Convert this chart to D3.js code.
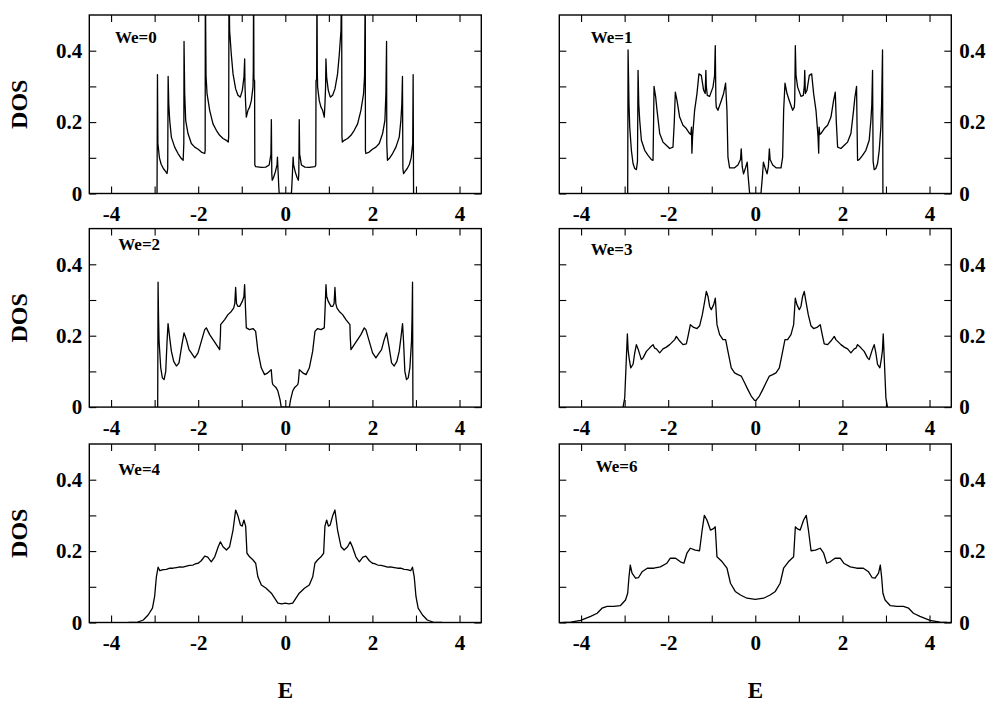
<!DOCTYPE html>
<html>
<head>
<meta charset="utf-8">
<script src="https://cdn.jsdelivr.net/npm/d3@7"></script>
<style>
  html, body { margin: 0; padding: 0; background: #fff; }
  svg { display: block; }
  text { font-family: "Liberation Serif", "Times New Roman", serif; font-weight: bold; fill: #000; }
</style>
</head>
<body>
<svg id="chart" width="994" height="704"></svg>
<script>
// ---------------- data ----------------
const panelLabels = ["We=0", "We=1", "We=2", "We=3", "We=4", "We=6"];
const eTicks = [-4, -3, -2, -1, 0, 1, 2, 3, 4];
const eTickLabels = [-4, -2, 0, 2, 4];
const dosTicks = [0, 0.1, 0.2, 0.3, 0.4];
const dosTickLabels = [0, 0.2, 0.4];
const xLabel = "E";
const yLabel = "DOS";

const we0 = [
  [-2.945,0],[-2.935,0.333],[-2.925,0.14],[-2.89,0.10],[-2.85,0.082],[-2.80,0.07],[-2.75,0.062],[-2.715,0.056],
  [-2.70,0.07],[-2.69,0.328],[-2.675,0.25],[-2.654,0.205],[-2.616,0.158],[-2.54,0.13],[-2.463,0.112],[-2.386,0.098],
  [-2.345,0.093],[-2.33,0.14],[-2.325,0.426],[-2.31,0.28],[-2.287,0.205],[-2.234,0.168],[-2.157,0.14],[-2.08,0.13],
  [-2.0,0.124],[-1.927,0.116],[-1.85,0.112],[-1.84,0.12],[-1.836,0.6],[-1.82,0.33],[-1.797,0.28],[-1.736,0.233],
  [-1.66,0.195],[-1.583,0.177],[-1.507,0.163],[-1.43,0.154],[-1.354,0.149],[-1.31,0.144],[-1.30,0.16],[-1.293,0.6],
  [-1.278,0.456],[-1.24,0.39],[-1.2,0.335],[-1.14,0.293],[-1.087,0.275],[-1.033,0.27],[-0.987,0.289],[-0.949,0.326],
  [-0.933,0.377],[-0.925,0.30],[-0.91,0.25],[-0.895,0.214],[-0.857,0.233],[-0.819,0.242],[-0.78,0.26],[-0.742,0.298],
  [-0.735,0.34],[-0.727,0.6],[-0.72,0.32],[-0.705,0.316],[-0.70,0.08],[-0.68,0.075],[-0.55,0.073],[-0.45,0.074],
  [-0.37,0.08],[-0.33,0.11],[-0.32,0.207],[-0.31,0.056],[-0.30,0.037],[-0.27,0.045],[-0.23,0.06],[-0.19,0.08],
  [-0.18,0.102],[-0.165,0.06],[-0.15,0.02],[-0.14,0],
  [0.14,0],[0.15,0.02],[0.165,0.06],[0.18,0.102],[0.19,0.08],[0.23,0.06],[0.27,0.045],[0.30,0.037],
  [0.31,0.056],[0.32,0.207],[0.33,0.11],[0.37,0.08],[0.45,0.074],[0.55,0.073],[0.68,0.075],[0.70,0.08],
  [0.705,0.316],[0.72,0.32],[0.727,0.6],[0.735,0.34],[0.742,0.298],[0.78,0.26],[0.819,0.242],[0.857,0.233],
  [0.895,0.214],[0.91,0.25],[0.925,0.30],[0.933,0.377],[0.949,0.326],[0.987,0.289],[1.033,0.27],[1.087,0.275],
  [1.14,0.293],[1.2,0.335],[1.24,0.39],[1.278,0.456],[1.293,0.6],[1.30,0.16],[1.31,0.144],[1.354,0.149],
  [1.43,0.154],[1.507,0.163],[1.583,0.177],[1.66,0.195],[1.736,0.233],[1.797,0.28],[1.82,0.33],[1.836,0.6],
  [1.84,0.12],[1.85,0.112],[1.927,0.116],[2.0,0.124],[2.08,0.13],[2.157,0.14],[2.234,0.168],[2.287,0.205],
  [2.31,0.28],[2.325,0.426],[2.33,0.14],[2.345,0.093],[2.386,0.098],[2.463,0.112],[2.54,0.13],[2.616,0.158],
  [2.654,0.205],[2.675,0.25],[2.69,0.328],[2.70,0.07],[2.715,0.056],[2.75,0.062],[2.80,0.07],[2.85,0.082],
  [2.89,0.10],[2.925,0.14],[2.935,0.333],[2.945,0]
];

const we1 = [
  [-2.93,0],[-2.921,0.402],[-2.90,0.25],[-2.883,0.186],[-2.845,0.121],[-2.807,0.084],[-2.768,0.07],[-2.73,0.067],
  [-2.705,0.09],[-2.692,0.345],[-2.675,0.25],[-2.654,0.205],[-2.615,0.149],[-2.539,0.121],[-2.462,0.107],[-2.386,0.095],
  [-2.348,0.093],[-2.335,0.2],[-2.325,0.30],[-2.30,0.28],[-2.287,0.27],[-2.256,0.233],[-2.195,0.168],[-2.119,0.144],
  [-2.043,0.135],[-1.966,0.126],[-1.89,0.13],[-1.86,0.2],[-1.836,0.284],[-1.798,0.261],[-1.737,0.214],[-1.66,0.191],
  [-1.584,0.182],[-1.507,0.168],[-1.48,0.165],[-1.465,0.186],[-1.455,0.113],[-1.44,0.16],[-1.393,0.233],[-1.34,0.279],
  [-1.294,0.335],[-1.24,0.331],[-1.186,0.289],[-1.15,0.28],[-1.135,0.345],[-1.125,0.30],[-1.102,0.275],[-1.049,0.272],
  [-0.972,0.298],[-0.935,0.33],[-0.919,0.414],[-0.905,0.26],[-0.896,0.242],[-0.858,0.233],[-0.781,0.26],[-0.728,0.28],
  [-0.682,0.309],[-0.651,0.233],[-0.628,0.102],[-0.59,0.072],[-0.476,0.072],[-0.399,0.08],[-0.34,0.095],[-0.323,0.125],
  [-0.30,0.075],[-0.27,0.055],[-0.224,0.072],[-0.186,0.088],[-0.165,0.05],[-0.13,0],
  [0.13,0],[0.165,0.05],[0.186,0.088],[0.224,0.072],[0.27,0.055],[0.30,0.075],[0.323,0.125],[0.34,0.095],
  [0.399,0.08],[0.476,0.072],[0.59,0.072],[0.628,0.102],[0.651,0.233],[0.682,0.309],[0.728,0.28],[0.781,0.26],
  [0.858,0.233],[0.896,0.242],[0.905,0.26],[0.919,0.414],[0.935,0.33],[0.972,0.298],[1.049,0.272],[1.102,0.275],
  [1.125,0.30],[1.135,0.345],[1.15,0.28],[1.186,0.289],[1.24,0.331],[1.294,0.335],[1.34,0.279],[1.393,0.233],
  [1.44,0.16],[1.455,0.113],[1.465,0.186],[1.48,0.165],[1.507,0.168],[1.584,0.182],[1.66,0.191],[1.737,0.214],
  [1.798,0.261],[1.836,0.284],[1.86,0.2],[1.89,0.13],[1.966,0.126],[2.043,0.135],[2.119,0.144],[2.195,0.168],
  [2.256,0.233],[2.287,0.27],[2.30,0.28],[2.325,0.30],[2.335,0.2],[2.348,0.093],[2.386,0.095],[2.462,0.107],
  [2.539,0.121],[2.615,0.149],[2.654,0.205],[2.675,0.25],[2.692,0.345],[2.705,0.09],[2.73,0.067],[2.768,0.07],
  [2.807,0.084],[2.845,0.121],[2.883,0.186],[2.90,0.25],[2.921,0.402],[2.93,0]
];

const we2 = [
  [-2.93,0],[-2.921,0.35],[-2.91,0.25],[-2.898,0.184],[-2.86,0.11],[-2.822,0.082],[-2.783,0.077],[-2.745,0.10],
  [-2.715,0.184],[-2.692,0.234],[-2.654,0.194],[-2.615,0.156],[-2.562,0.128],[-2.5,0.115],[-2.44,0.124],[-2.386,0.166],
  [-2.325,0.208],[-2.271,0.189],[-2.21,0.161],[-2.157,0.152],[-2.08,0.138],[-2.004,0.152],[-1.928,0.184],[-1.85,0.217],
  [-1.813,0.222],[-1.736,0.203],[-1.66,0.189],[-1.583,0.175],[-1.507,0.161],[-1.49,0.2],[-1.484,0.231],[-1.392,0.245],
  [-1.316,0.259],[-1.24,0.268],[-1.186,0.277],[-1.16,0.29],[-1.14,0.335],[-1.12,0.29],[-1.087,0.282],[-1.048,0.282],
  [-0.987,0.296],[-0.95,0.31],[-0.934,0.343],[-0.915,0.28],[-0.895,0.222],[-0.819,0.217],[-0.742,0.22],[-0.681,0.212],
  [-0.628,0.156],[-0.552,0.11],[-0.476,0.091],[-0.4,0.096],[-0.323,0.105],[-0.30,0.07],[-0.285,0.063],[-0.209,0.054],
  [-0.17,0.045],[-0.12,0.02],[-0.094,0],
  [0.094,0],[0.12,0.02],[0.17,0.045],[0.209,0.054],[0.285,0.063],[0.30,0.07],[0.323,0.105],[0.4,0.096],
  [0.476,0.091],[0.552,0.11],[0.628,0.156],[0.681,0.212],[0.742,0.22],[0.819,0.217],[0.895,0.222],[0.915,0.28],
  [0.934,0.343],[0.95,0.31],[0.987,0.296],[1.048,0.282],[1.087,0.282],[1.12,0.29],[1.14,0.335],[1.16,0.29],
  [1.186,0.277],[1.24,0.268],[1.316,0.259],[1.392,0.245],[1.484,0.231],[1.49,0.2],[1.507,0.161],[1.583,0.175],
  [1.66,0.189],[1.736,0.203],[1.813,0.222],[1.85,0.217],[1.928,0.184],[2.004,0.152],[2.08,0.138],[2.157,0.152],
  [2.21,0.161],[2.271,0.189],[2.325,0.208],[2.386,0.166],[2.44,0.124],[2.5,0.115],[2.562,0.128],[2.615,0.156],
  [2.654,0.194],[2.692,0.234],[2.715,0.184],[2.745,0.10],[2.783,0.077],[2.822,0.082],[2.86,0.11],[2.898,0.184],
  [2.91,0.25],[2.921,0.35],[2.93,0]
];

const we3 = [
  [-3.036,0],[-2.998,0.026],[-2.96,0.138],[-2.937,0.205],[-2.92,0.16],[-2.898,0.138],[-2.86,0.11],[-2.806,0.12],
  [-2.768,0.152],[-2.73,0.175],[-2.692,0.163],[-2.615,0.133],[-2.577,0.138],[-2.5,0.156],[-2.424,0.166],[-2.348,0.175],
  [-2.31,0.165],[-2.271,0.163],[-2.195,0.152],[-2.119,0.163],[-2.042,0.168],[-1.966,0.175],[-1.85,0.189],[-1.813,0.198],
  [-1.736,0.185],[-1.66,0.175],[-1.583,0.177],[-1.545,0.198],[-1.491,0.231],[-1.415,0.223],[-1.338,0.22],[-1.277,0.228],
  [-1.216,0.259],[-1.162,0.296],[-1.124,0.324],[-1.086,0.31],[-1.048,0.282],[-1.01,0.273],[-0.956,0.287],[-0.918,0.305],
  [-0.88,0.231],[-0.819,0.203],[-0.742,0.189],[-0.681,0.189],[-0.628,0.156],[-0.552,0.11],[-0.475,0.096],[-0.399,0.091],
  [-0.323,0.087],[-0.246,0.068],[-0.17,0.049],[-0.094,0.031],[-0.017,0.019],
  [0.017,0.019],[0.094,0.031],[0.17,0.049],[0.246,0.068],[0.323,0.087],[0.399,0.091],[0.475,0.096],[0.552,0.11],
  [0.628,0.156],[0.681,0.189],[0.742,0.189],[0.819,0.203],[0.88,0.231],[0.918,0.305],[0.956,0.287],[1.01,0.273],
  [1.048,0.282],[1.086,0.31],[1.124,0.324],[1.162,0.296],[1.216,0.259],[1.277,0.228],[1.338,0.22],[1.415,0.223],
  [1.491,0.231],[1.545,0.198],[1.583,0.177],[1.66,0.175],[1.736,0.185],[1.813,0.198],[1.85,0.189],[1.966,0.175],
  [2.042,0.168],[2.119,0.163],[2.195,0.152],[2.271,0.163],[2.31,0.165],[2.348,0.175],[2.424,0.166],[2.5,0.156],
  [2.577,0.138],[2.615,0.133],[2.692,0.163],[2.73,0.175],[2.768,0.152],[2.806,0.12],[2.86,0.11],[2.898,0.138],
  [2.92,0.16],[2.937,0.205],[2.96,0.138],[2.998,0.026],[3.036,0]
];

const we4 = [
  [-3.6,0],[-3.42,0],[-3.26,0.007],[-3.15,0.021],[-3.05,0.04],[-3.0,0.073],[-2.96,0.128],[-2.92,0.155],
  [-2.88,0.145],[-2.80,0.148],[-2.73,0.149],[-2.65,0.152],[-2.58,0.152],[-2.5,0.154],[-2.42,0.156],[-2.35,0.155],
  [-2.27,0.158],[-2.2,0.16],[-2.12,0.161],[-2.05,0.165],[-2.0,0.166],[-1.93,0.173],[-1.85,0.186],[-1.78,0.183],
  [-1.70,0.17],[-1.62,0.184],[-1.54,0.212],[-1.49,0.226],[-1.43,0.212],[-1.35,0.203],[-1.28,0.212],[-1.2,0.259],
  [-1.14,0.315],[-1.09,0.30],[-1.03,0.273],[-0.99,0.27],[-0.95,0.287],[-0.91,0.27],[-0.88,0.194],[-0.82,0.184],
  [-0.74,0.175],[-0.68,0.166],[-0.63,0.128],[-0.55,0.105],[-0.44,0.096],[-0.32,0.082],[-0.245,0.068],[-0.17,0.054],
  [-0.08,0.052],[0,0.054],
  [0.08,0.052],[0.17,0.054],[0.245,0.068],[0.32,0.082],[0.44,0.096],[0.55,0.105],[0.63,0.128],[0.68,0.166],
  [0.74,0.175],[0.82,0.184],[0.88,0.194],[0.91,0.27],[0.95,0.287],[0.99,0.27],[1.03,0.273],[1.09,0.30],
  [1.14,0.315],[1.2,0.259],[1.28,0.212],[1.35,0.203],[1.43,0.212],[1.49,0.226],[1.54,0.212],[1.62,0.184],
  [1.70,0.17],[1.78,0.183],[1.85,0.186],[1.93,0.173],[2.0,0.166],[2.05,0.165],[2.12,0.161],[2.2,0.16],
  [2.27,0.158],[2.35,0.155],[2.42,0.156],[2.5,0.154],[2.58,0.152],[2.65,0.152],[2.73,0.149],[2.80,0.148],
  [2.88,0.145],[2.92,0.155],[2.96,0.128],[3.0,0.073],[3.05,0.04],[3.15,0.021],[3.26,0.007],[3.42,0],[3.6,0]
];

const we6 = [
  [-4.4,0],[-4.24,0.001],[-4.01,0.006],[-3.78,0.017],[-3.63,0.026],[-3.52,0.04],[-3.40,0.045],[-3.25,0.045],
  [-3.10,0.047],[-2.98,0.063],[-2.93,0.082],[-2.90,0.128],[-2.87,0.161],[-2.83,0.138],[-2.75,0.124],[-2.68,0.126],
  [-2.60,0.142],[-2.48,0.152],[-2.33,0.152],[-2.18,0.156],[-2.03,0.166],[-1.95,0.18],[-1.83,0.18],[-1.72,0.17],
  [-1.64,0.166],[-1.57,0.194],[-1.49,0.208],[-1.38,0.203],[-1.28,0.201],[-1.22,0.259],[-1.17,0.30],[-1.11,0.287],
  [-1.03,0.259],[-0.96,0.263],[-0.92,0.268],[-0.88,0.184],[-0.76,0.17],[-0.65,0.152],[-0.57,0.11],[-0.46,0.087],
  [-0.34,0.077],[-0.19,0.068],[0,0.065],
  [0.19,0.068],[0.34,0.077],[0.46,0.087],[0.57,0.11],[0.65,0.152],[0.76,0.17],[0.88,0.184],[0.92,0.268],
  [0.96,0.263],[1.03,0.259],[1.11,0.287],[1.17,0.30],[1.22,0.259],[1.28,0.201],[1.38,0.203],[1.49,0.208],
  [1.57,0.194],[1.64,0.166],[1.72,0.17],[1.83,0.18],[1.95,0.18],[2.03,0.166],[2.18,0.156],[2.33,0.152],
  [2.48,0.152],[2.60,0.142],[2.68,0.126],[2.75,0.124],[2.83,0.138],[2.87,0.161],[2.90,0.128],[2.93,0.082],
  [2.98,0.063],[3.10,0.047],[3.25,0.045],[3.40,0.045],[3.52,0.04],[3.63,0.026],[3.78,0.017],[4.01,0.006],
  [4.24,0.001],[4.4,0]
];

const series = [we0, we1, we2, we3, we4, we6];

// ---------------- layout ----------------
const colX = [89.3, 559.3];
const rowY = [15, 228.6, 444];
const panelW = 392, panelH = 178.5;
const labelOffsets = [[25.7, 28.3], [31.4, 28.3], [29, 21.7], [31.4, 26.7], [29, 31], [36.4, 27.7]];

const svg = d3.select("#chart");
const fmtE = d => eTickLabels.includes(d) ? String(d) : "";
const fmtD = d => dosTickLabels.includes(d) ? (d === 0 ? "0" : d.toFixed(1)) : "";

series.forEach((data, i) => {
  const col = i % 2, row = Math.floor(i / 2);
  const x0 = colX[col], y0 = rowY[row];
  const x = d3.scaleLinear().domain([-4.5, 4.5]).range([x0, x0 + panelW]);
  const y = d3.scaleLinear().domain([0, 0.5]).range([y0 + panelH, y0]);
  const g = svg.append("g");

  g.append("clipPath").attr("id", "clip" + i)
    .append("rect").attr("x", x0).attr("y", y0).attr("width", panelW).attr("height", panelH);

  g.append("path").datum(data)
    .attr("clip-path", "url(#clip" + i + ")")
    .attr("fill", "none").attr("stroke", "#000").attr("stroke-width", 1.3)
    .attr("stroke-linejoin", "round")
    .attr("d", d3.line().x(d => x(d[0])).y(d => y(d[1])));

  const styleAxis = sel => {
    sel.select(".domain").remove();
    sel.selectAll(".tick line").attr("stroke", "#000").attr("stroke-width", 1.1);
    sel.selectAll(".tick text").attr("font-size", 21).attr("font-weight", "bold")
      .attr("font-family", "'Liberation Serif', 'Times New Roman', serif").attr("fill", "#000");
  };

  g.append("g").attr("transform", `translate(0,${y0 + panelH})`)
    .call(d3.axisBottom(x).tickValues(eTicks).tickSize(-7).tickPadding(13).tickFormat(fmtE)).call(styleAxis);
  g.append("g").attr("transform", `translate(0,${y0})`)
    .call(d3.axisTop(x).tickValues(eTicks).tickSize(-7).tickFormat("")).call(styleAxis);
  g.append("g").attr("transform", `translate(${x0},0)`)
    .call(d3.axisLeft(y).tickValues(dosTicks).tickSize(-7).tickPadding(7).tickFormat(col === 0 ? fmtD : "")).call(styleAxis);
  g.append("g").attr("transform", `translate(${x0 + panelW},0)`)
    .call(d3.axisRight(y).tickValues(dosTicks).tickSize(-7).tickPadding(8).tickFormat(col === 1 ? fmtD : "")).call(styleAxis);

  g.append("rect").attr("x", x0).attr("y", y0).attr("width", panelW).attr("height", panelH)
    .attr("fill", "none").attr("stroke", "#000").attr("stroke-width", 1.4);

  g.append("text").attr("x", x0 + labelOffsets[i][0]).attr("y", y0 + labelOffsets[i][1])
    .attr("font-size", 17).text(panelLabels[i]);

  if (col === 0) {
    const cy = y0 + panelH / 2;
    g.append("text").attr("transform", `translate(27,${cy}) rotate(-90)`)
      .attr("text-anchor", "middle").attr("font-size", 24).text(yLabel);
  }
  if (row === 2) {
    g.append("text").attr("x", x(0)).attr("y", 698)
      .attr("text-anchor", "middle").attr("font-size", 23).text(xLabel);
  }
});
</script>
</body>
</html>
